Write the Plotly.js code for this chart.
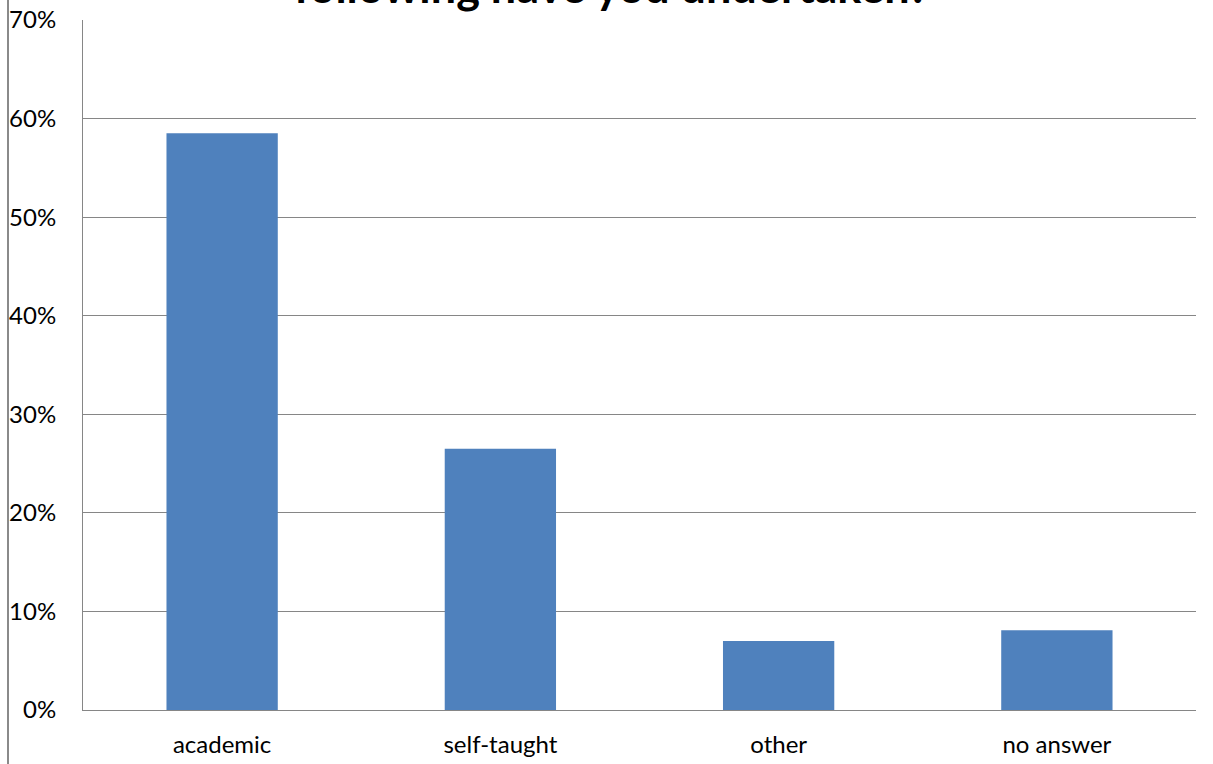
<!DOCTYPE html>
<html>
<head>
<meta charset="utf-8">
<script src="https://cdn.plot.ly/plotly-3.0.1.min.js"></script>
<style>
  html, body { margin: 0; padding: 0; background: #fff; }
  #wrap { position: relative; width: 1213px; height: 764px; overflow: hidden; }
  #chart { position: absolute; left: 0; top: 0; width: 1213px; height: 764px; }
  #frame { position: absolute; left: 7px; top: 0; width: 2px; height: 764px; background: #8a8a8a; }
</style>
</head>
<body>
<div id="wrap"><div id="chart"></div><div id="frame"></div></div>
<script>
const categories = ["academic", "self-taught", "other", "no answer"];
const values = [0.585, 0.265, 0.070, 0.081];
const yTickVals = [0, 0.1, 0.2, 0.3, 0.4, 0.5, 0.6, 0.7];
const yTickText = ["0%", "10%", "20%", "30%", "40%", "50%", "60%", "70%"];
const chartTitle = "Which of the<br>following have you undertaken?";

const trace = {
  type: "bar",
  x: categories,
  y: values,
  marker: { color: "#4F81BD", line: { width: 0 } },
  hoverinfo: "x+y"
};

const layout = {
  width: 1213,
  height: 764,
  margin: { l: 83, r: 17, t: 20, b: 54 },
  paper_bgcolor: "#ffffff",
  plot_bgcolor: "#ffffff",
  bargap: 0.6,
  showlegend: false,
  font: { family: "Lato, 'Open Sans', sans-serif", color: "#000", size: 24 },
  annotations: [{
    text: chartTitle,
    xref: "paper", yref: "paper",
    x: 0.475, y: 1, xanchor: "center", yanchor: "bottom",
    yshift: 6,
    showarrow: false,
    borderpad: 0,
    font: { family: "Lato, sans-serif", size: 45, color: "#000", weight: "bold" }
  }],
  xaxis: {
    type: "category",
    showgrid: false,
    showline: true,
    linecolor: "#868686",
    linewidth: 1,
    ticks: "",
    ticklabelstandoff: 13,
    tickfont: { size: 24, color: "#000" },
    fixedrange: true
  },
  yaxis: {
    range: [0, 0.7],
    tickvals: yTickVals,
    ticktext: yTickText,
    showgrid: true,
    gridcolor: "#868686",
    gridwidth: 1,
    zeroline: false,
    showline: true,
    linecolor: "#868686",
    linewidth: 1,
    ticks: "",
    ticklabelstandoff: 21,
    tickfont: { size: 24, color: "#000" },
    fixedrange: true
  }
};

Plotly.newPlot("chart", [trace], layout, { displayModeBar: false, staticPlot: true });
</script>
</body>
</html>
